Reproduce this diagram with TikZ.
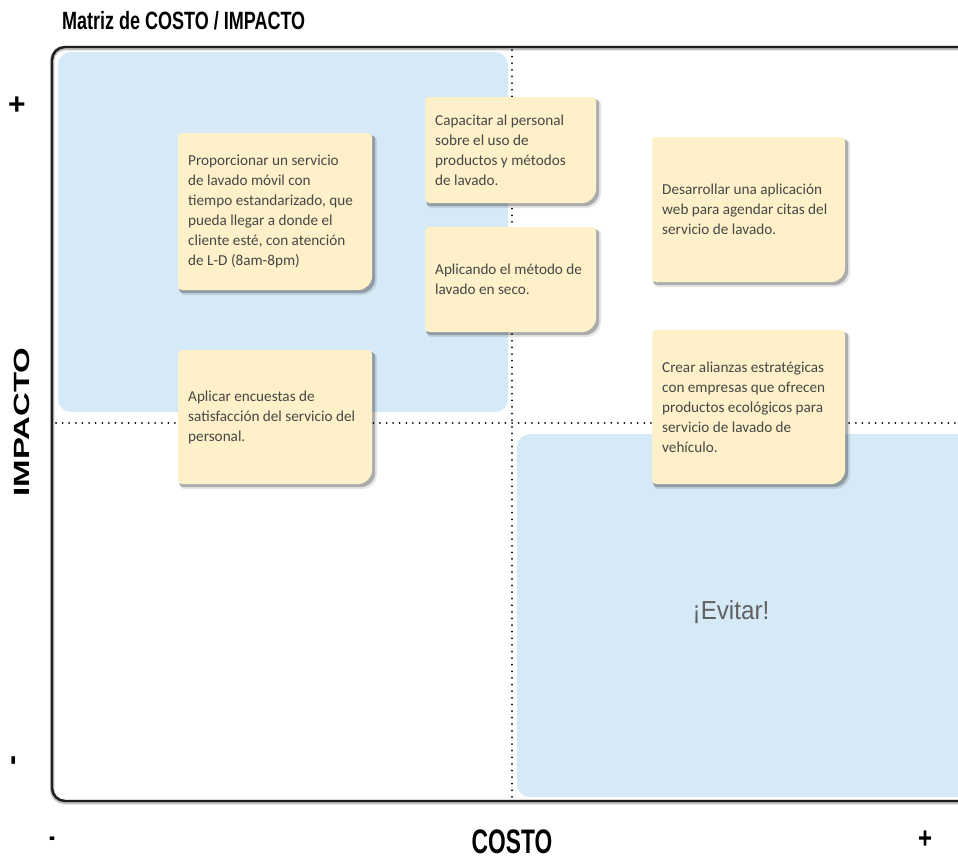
\documentclass[tikz,border=0pt]{standalone}
\usepackage{fontspec}
\setmainfont{Carlito}
\newfontfamily\headfont{Liberation Sans}
\usetikzlibrary{calc}

\definecolor{quadblue}{HTML}{D5E9F6}
\definecolor{notefill}{HTML}{FEF0C8}
\definecolor{notetextcol}{HTML}{474747}
\definecolor{framecol}{HTML}{1E1E1E}

\tikzset{
  quadrant/.style={fill=quadblue, rounded corners=13pt},
  frameline/.style={draw=framecol, line width=2.4pt, rounded corners=13pt},
  framehalo/.style={draw=black!25, line width=4.5pt, rounded corners=13pt},
  dotline/.style={draw=black, line width=2pt, line cap=round, dash pattern=on 0.01pt off 6.6pt},
  notetext/.style={anchor=west, align=left, inner sep=0pt, text=notetextcol,
    font=\fontsize{15.2}{20}\selectfont},
  headlabel/.style={inner sep=0pt, font=\headfont\bfseries},
}

% sticky note: name, left, top, right, bottom, text
\newcommand{\stickynote}[6]{%
  \fill[black, opacity=0.10] (#2+2,{(#3+#5)/2}) [rounded corners=4pt] -- (#2+2,#3+3) -- (#4+5,#3+3)
     [rounded corners=15pt] -- (#4+5,#5+5) [rounded corners=4pt] -- (#2+2,#5+5) -- cycle;
  \fill[black, opacity=0.25] (#2+1,{(#3+#5)/2}) [rounded corners=4pt] -- (#2+1,#3+2) -- (#4+3,#3+2)
     [rounded corners=14pt] -- (#4+3,#5+3) [rounded corners=4pt] -- (#2+1,#5+3) -- cycle;
  \fill[notefill] (#2,{(#3+#5)/2}) [rounded corners=4pt] -- (#2,#3) -- (#4,#3)
     [rounded corners=14pt] -- (#4,#5) [rounded corners=4pt] -- (#2,#5) -- cycle;
  \node[notetext] (#1) at (#2+10,{(#3+#5)/2}) {#6};
}

\begin{document}
\begin{tikzpicture}[x=1pt, y=-1pt]
\useasboundingbox (0,0) rectangle (958,860);

% quadrant shading
\fill[quadrant] (58,52) rectangle (508,412);
\fill[quadrant] (517,434) rectangle (975,797);

% outer frame, open on the right
\draw[framehalo] (965,48) -- (52,48) -- (52,802) -- (965,802);
\draw[frameline] (965,47) -- (52,47) -- (52,801) -- (965,801);

% axis dividers
\coordinate (vtop) at (512,50);
\coordinate (vbot) at (512,800);
\coordinate (hleft) at (56,423);
\coordinate (hright) at (958,423);
\draw[dotline] (vtop) -- (vbot);
\draw[dotline] (hleft) -- (hright);

% ideas
\stickynote{movil}{178}{133}{372}{290}{Proporcionar un servicio\\de lavado móvil con\\tiempo estandarizado, que\\pueda llegar a donde el\\cliente esté, con atención\\de L-D (8am-8pm)}
\stickynote{capacitar}{425}{97}{596}{203}{Capacitar al personal\\sobre el uso de\\productos y métodos\\de lavado.}
\stickynote{seco}{425}{227}{596}{332}{Aplicando el método de\\lavado en seco.}
\stickynote{app}{652}{137}{845}{282}{Desarrollar una aplicación\\web para agendar citas del\\servicio de lavado.}
\stickynote{alianzas}{652}{330}{845}{484}{Crear alianzas estratégicas\\con empresas que ofrecen\\productos ecológicos para\\servicio de lavado de\\vehículo.}
\stickynote{encuestas}{178}{350}{372}{484}{Aplicar encuestas de\\satisfacción del servicio del\\personal.}

\node[inner sep=0pt, text=black!62, font=\headfont\fontsize{26}{26}\selectfont] (evitar) at (731,612) {\scalebox{0.93}[1]{¡Evitar!}};

% titles and axis labels
\node[headlabel, anchor=base west, font=\headfont\bfseries\fontsize{25}{25}\selectfont] (title) at (62,29)
  {\scalebox{0.72}[1]{Matriz de COSTO / IMPACTO}};
\node[headlabel, anchor=base, font=\headfont\bfseries\fontsize{34}{34}\selectfont] (costo) at (512,853)
  {\scalebox{0.67}[1]{COSTO}};
\node[headlabel, font=\headfont\bfseries\fontsize{22}{22}\selectfont, rotate=90] (impacto) at (22,422)
  {\scalebox{1.5}[1]{IMPACTO}};
\node[headlabel, font=\headfont\bfseries\fontsize{30}{30}\selectfont] (impmas) at (17,106) {+};
\node[headlabel, font=\headfont\bfseries\fontsize{30}{30}\selectfont, rotate=90] (impmenos) at (17,760) {-};
\node[headlabel, font=\headfont\bfseries\fontsize{30}{30}\selectfont] (cosmenos) at (52,842) {\scalebox{0.6}[1]{-}};
\node[headlabel, font=\headfont\bfseries\fontsize{30}{30}\selectfont] (cosmas) at (925,840) {\scalebox{0.8}[1]{+}};
\end{tikzpicture}
\end{document}
